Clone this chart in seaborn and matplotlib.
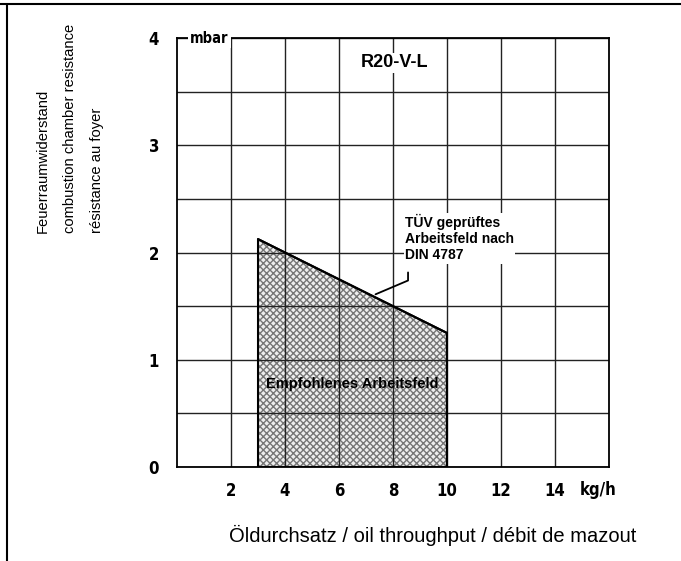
import matplotlib
matplotlib.use("Agg")
import matplotlib.pyplot as plt
import seaborn as sns
import pandas as pd
from matplotlib.lines import Line2D

# oil throughput (kg/h) and combustion chamber resistance (mbar)
field_x = [3, 4, 8, 10]
field_top = [2.125, 2.0, 1.5, 1.25]
x_ticks = [2, 4, 6, 8, 10, 12, 14]
y_ticks = [0, 1, 2, 3, 4]
y_grid = [0.5, 1.5, 2.5, 3.5]

sns.set_theme(style="white")
plt.rcParams['font.family'] = ['Liberation Sans', 'DejaVu Sans']
plt.rcParams['text.color'] = 'black'
cond = dict(family="DejaVu Sans", stretch="condensed", weight="bold")

fig = plt.figure(figsize=(6.81, 5.61), dpi=100)
ax = fig.add_axes([0.26, 0.1676, 0.634, 0.7646])

df = pd.DataFrame({"x": field_x, "y": field_top})

# stippled working field
ax.fill_between(df["x"], 0, df["y"], facecolor="#eeeeee", edgecolor="#767676",
                hatch="xxxxx", linewidth=0, zorder=0.3)
ax.fill_between(df["x"], 0, df["y"], facecolor="none", edgecolor="black",
                linewidth=1.5, zorder=2)
sns.lineplot(data=df, x="x", y="y", color="black", linewidth=1.5, ax=ax, zorder=3)

ax.set_xlim(0, 16)
ax.set_ylim(0, 4)
ax.set_xticks(x_ticks)
ax.set_yticks(y_ticks)
ax.set_yticks(y_grid, minor=True)
ax.grid(True, which="both", axis="y", color="#222222", linewidth=1.0)
ax.grid(True, which="major", axis="x", color="#222222", linewidth=1.0)
ax.tick_params(axis="both", which="both", length=0)
ax.tick_params(axis="y", pad=13)
ax.tick_params(axis="x", pad=11)
for lab in ax.get_xticklabels() + ax.get_yticklabels():
    lab.set_fontfamily("DejaVu Sans")
    lab.set_fontstretch("condensed")
    lab.set_fontweight("bold")
    lab.set_fontsize(12)
    lab.set_color("black")
ax.set_xlabel("")
ax.set_ylabel("")
for s in ax.spines.values():
    s.set_visible(True)
    s.set_color("black")
    s.set_linewidth(1.3)

ax.text(1.2, 4, "mbar", ha="center", va="center", fontsize=10.5,
        bbox=dict(facecolor="white", edgecolor="none", pad=1.5),
        clip_on=False, zorder=5, **cond)
ax.text(15.6, -0.215, "kg/h", ha="center", va="center", fontsize=12,
        clip_on=False, **cond)
ax.text(8.07, 3.77, "R20-V-L", ha="center", va="center", fontsize=13, fontweight="bold",
        bbox=dict(facecolor="white", edgecolor="none", pad=1), zorder=5)
ax.text(8.45, 2.36, "TÜV geprüftes\nArbeitsfeld nach\nDIN 4787", ha="left", va="top",
        fontsize=10, fontweight="bold", linespacing=1.2,
        bbox=dict(facecolor="white", edgecolor="none", pad=1), zorder=5)
ax.annotate("", xy=(7.26, 1.6), xytext=(8.56, 1.84),
            arrowprops=dict(arrowstyle="-", color="black", lw=1.3,
                            connectionstyle="angle,angleA=90,angleB=23,rad=0"), zorder=5)
ax.text(6.5, 0.77, "Empfohlenes Arbeitsfeld", ha="center", va="center",
        fontsize=10.5, fontweight="bold", zorder=5)

# axis titles
for xpos, line in zip([0.063, 0.103, 0.142],
                      ["Feuerraumwiderstand", "combustion chamber resistance",
                       "résistance au foyer"]):
    fig.text(xpos, 0.585, line, rotation=90, ha="center", va="bottom", fontsize=10.6)
fig.text(0.636, 0.046, "Öldurchsatz / oil throughput / débit de mazout",
         ha="center", va="center", fontsize=14.5)

# page frame
fig.add_artist(Line2D([0.0, 1.0], [0.992, 0.992], color="black", lw=1.5,
                      transform=fig.transFigure))
fig.add_artist(Line2D([0.0103, 0.0103], [0.0, 0.992], color="black", lw=1.5,
                      transform=fig.transFigure))

fig.savefig("out.png", dpi=100)
